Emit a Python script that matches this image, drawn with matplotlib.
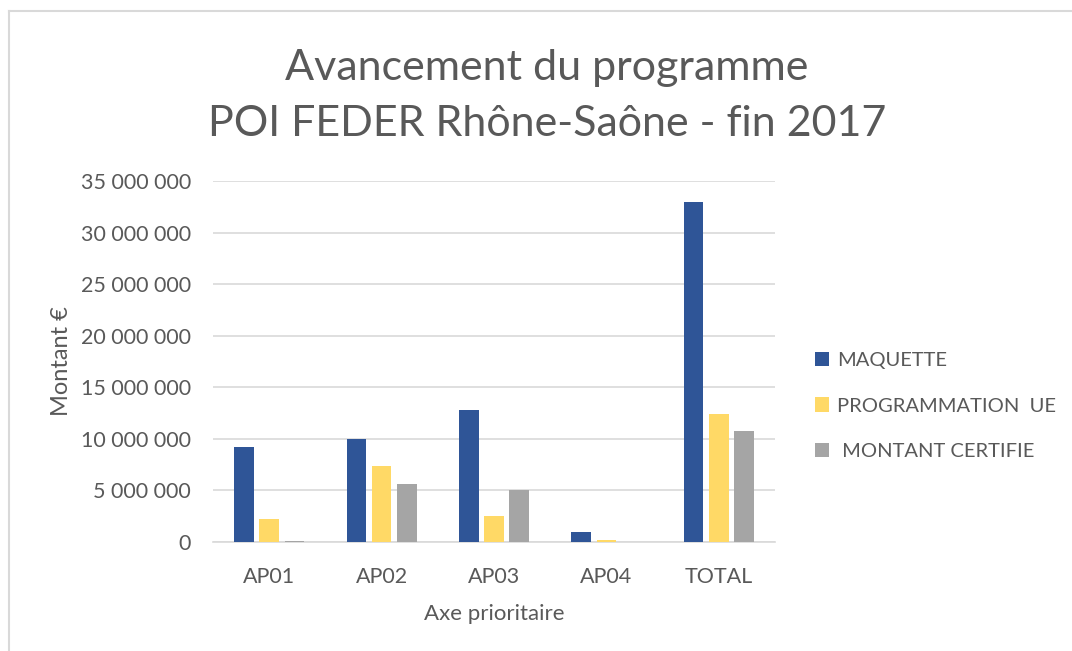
import matplotlib.pyplot as plt
from matplotlib.lines import Line2D
from matplotlib.patches import Patch
from matplotlib.ticker import FuncFormatter

categories = ["AP01", "AP02", "AP03", "AP04", "TOTAL"]
maquette = [9.22e6, 10.0e6, 12.82e6, 0.97e6, 32.98e6]
programmation_ue = [2.27e6, 7.41e6, 2.56e6, 0.16e6, 12.45e6]
montant_certifie = [0.13e6, 5.6e6, 5.05e6, 0.0, 10.74e6]
series_labels = ["MAQUETTE", "PROGRAMMATION  UE", " MONTANT CERTIFIE"]
series_colors = ["#2F5597", "#FFD966", "#A5A5A5"]

text_color = "#595959"
plt.rcParams["font.family"] = ["Lato", "DejaVu Sans"]

W, H = 1072, 651
fig = plt.figure(figsize=(W / 100, H / 100), dpi=100)
ax = fig.add_axes([213 / W, 1 - 542 / H, (775 - 213) / W, (542 - 181) / H])

step = 0.224
width = 0.175
for j, (vals, color) in enumerate(zip([maquette, programmation_ue, montant_certifie], series_colors)):
    xs = [i + (j - 1) * step for i in range(len(categories))]
    ax.bar(xs, vals, width=width, color=color, zorder=3)

ax.set_xlim(-0.5, len(categories) - 0.5)
ax.set_ylim(0, 35e6)
ax.set_yticks([i * 5e6 for i in range(8)])
ax.yaxis.set_major_formatter(FuncFormatter(lambda v, p: f"{int(v):,}".replace(",", " ")))
ax.set_xticks(range(len(categories)))
ax.set_xticklabels(categories)

ax.grid(axis="y", color="#D9D9D9", linewidth=1.2, zorder=0)
for s in ["top", "right", "left"]:
    ax.spines[s].set_visible(False)
ax.spines["bottom"].set_color("#D9D9D9")
ax.spines["bottom"].set_linewidth(1.2)
ax.tick_params(axis="both", length=0, labelsize=15.5, colors=text_color)
ax.tick_params(axis="y", pad=16)
ax.tick_params(axis="x", pad=18)

ax.set_xlabel("Axe prioritaire", fontsize=16, color=text_color, labelpad=12)
ax.set_ylabel("Montant €", fontsize=17, color=text_color, labelpad=6)

fig.text(547 / W, 1 - 80 / H, "Avancement du programme", ha="center", va="baseline",
         fontsize=31, color=text_color)
fig.text(547 / W, 1 - 136 / H, "POI FEDER Rhône-Saône - fin 2017", ha="center", va="baseline",
         fontsize=31, color=text_color)

handles = [Patch(facecolor=c, edgecolor="none") for c in series_colors]
fig.legend(handles, series_labels, loc="center left", bbox_to_anchor=(797 / W, 1 - 406 / H),
           frameon=False, fontsize=14.5, labelcolor=text_color, handlelength=0.7,
           handleheight=0.7, handletextpad=0.4, labelspacing=1.42)

# outer chart border
fig.add_artist(Line2D([9 / W, 9 / W], [0, 1 - 11 / H], color="#D9D9D9", linewidth=1.5))
fig.add_artist(Line2D([9 / W, 1], [1 - 11 / H, 1 - 11 / H], color="#D9D9D9", linewidth=1.5))

fig.savefig("out.png", dpi=100)
